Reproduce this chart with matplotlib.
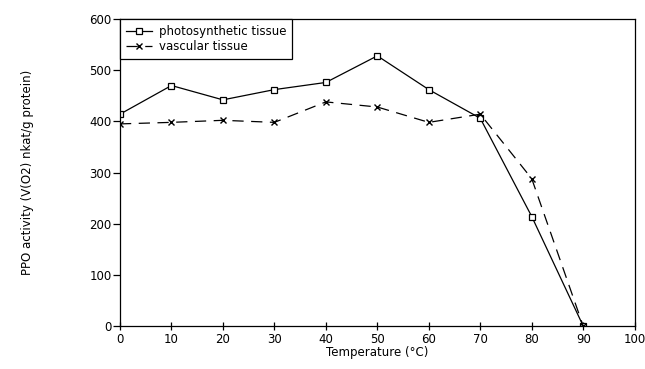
import matplotlib
matplotlib.use("Agg")
import matplotlib.pyplot as plt

# data
temp = [0, 10, 20, 30, 40, 50, 60, 70, 80, 90]
photo = [414, 470, 442, 462, 476, 528, 462, 406, 214, 0]
vasc = [395, 398, 402, 398, 438, 428, 398, 414, 288, 0]

plt.rcParams['font.family'] = 'DejaVu Sans'
plt.rcParams['font.size'] = 8.5

fig = plt.figure(figsize=(6.45, 3.69), dpi=100)
ax = fig.add_axes([0.186, 0.1165, 0.798, 0.832])

ax.plot(temp, photo, color='black', lw=0.9, marker='s', ms=4.5,
        mfc='white', mec='black', mew=0.9, label='photosynthetic tissue')
ax.plot(temp, vasc, color='black', lw=0.9, ls=(0, (9, 6)), marker='x', ms=5,
        mew=1.0, label='vascular tissue')

ax.set_xlim(0, 100)
ax.set_ylim(0, 600)
ax.set_xticks(range(0, 101, 10))
ax.set_yticks(range(0, 601, 100))
ax.tick_params(axis='y', direction='out', length=5, width=0.9, pad=1)
ax.tick_params(axis='x', direction='inout', length=6, width=0.9, pad=2)
for s in ax.spines.values():
    s.set_linewidth(0.9)

ax.set_xlabel('Temperature (°C)', labelpad=0)
ax.set_ylabel('PPO activity (V(O2) nkat/g protein)', labelpad=40)

leg = ax.legend(loc='upper left', bbox_to_anchor=(0, 1), borderaxespad=0,
                fancybox=False, edgecolor='black', framealpha=1,
                handlelength=2.2, handletextpad=0.6, labelspacing=0.2,
                borderpad=0.5)
leg.get_frame().set_linewidth(0.9)

fig.savefig('out.png', dpi=100)
